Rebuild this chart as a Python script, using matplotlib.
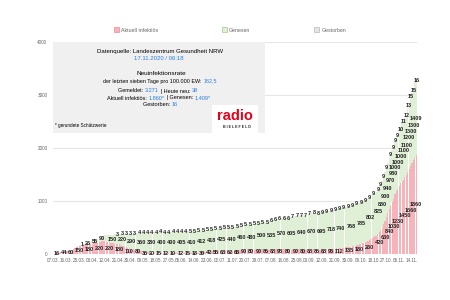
import matplotlib
matplotlib.use('Agg')
import matplotlib.pyplot as plt
from matplotlib.patches import Rectangle, Patch
from matplotlib.offsetbox import TextArea, HPacker, AnnotationBbox

# Tageswerte 07.03.2020 - 17.11.2020
aktuell = [
    # Maerz
    9, 12, 16, 20, 25, 32, 40, 44, 48, 50, 50, 52, 60, 75, 90, 110, 125, 140, 150, 160, 165, 170, 175, 180, 180,
    # April
    180, 185, 190, 200, 210, 210, 215, 220, 230, 240, 240, 240, 235, 230, 220, 210, 200, 200, 195, 190,
    180, 180, 170, 160, 150, 140, 130, 120, 110, 100,
    # Mai
    90, 85, 80, 80, 80, 70, 60, 50, 40, 35, 30, 30, 30, 25, 20, 19, 18, 17, 15, 15,
    15, 15, 14, 13, 12, 11, 10, 10, 10, 10, 10,
    # Juni
    10, 11, 11, 12, 12, 12, 13, 14, 15, 15, 15, 16, 17, 18, 20, 22, 25, 28, 30, 32,
    35, 38, 40, 42, 45, 48, 50, 50, 55, 60,
    # Juli
    60, 62, 65, 68, 70, 70, 68, 65, 62, 60, 60, 60, 62, 65, 70, 75, 80, 85, 90, 90,
    90, 88, 85, 80, 80, 82, 85, 90, 90, 90, 90,
    # August
    90, 88, 85, 80, 80, 82, 85, 88, 90, 90, 90, 92, 95, 100, 100, 95, 90, 85, 80, 80,
    82, 85, 88, 90, 90, 90, 88, 85, 80, 80, 80,
    # September
    82, 85, 88, 90, 90, 90, 88, 85, 80, 80, 82, 85, 88, 90, 90, 90, 92, 95, 98, 100,
    100, 105, 110, 112, 115, 118, 120, 125, 130, 130,
    # Oktober
    135, 140, 145, 150, 160, 165, 170, 180, 190, 200, 210, 220, 230, 240, 260, 280, 300, 320, 340, 340,
    380, 420, 450, 490, 560, 630, 700, 770, 840, 910, 980,
    # November
    1030, 1130, 1180, 1230, 1290, 1340, 1380, 1400, 1450, 1500, 1550, 1600, 1660, 1720, 1780, 1820, 1860,
]

genesen = [
    0, 0, 0, 0, 0, 0, 0, 0, 0, 0, 0, 0, 0, 2, 3, 4, 5, 6, 8, 10, 12, 15, 18, 22, 26,
    35, 40, 45, 50, 55, 60, 65, 70, 80, 90, 100, 110, 115, 120, 130, 140, 150, 160, 170, 180,
    190, 200, 210, 220, 230, 240, 250, 260, 270, 280,
    290, 300, 310, 310, 320, 330, 340, 350, 360, 365, 370, 370, 375, 380, 380, 385, 390, 390, 390, 395,
    400, 400, 400, 400, 400, 400, 400, 400, 400, 405, 405,
    405, 405, 405, 405, 405, 408, 408, 408, 410, 410, 410, 410, 410, 410, 410, 410, 410, 412, 412, 412,
    415, 415, 415, 415, 418, 418, 420, 420, 420, 420,
    420, 422, 425, 428, 430, 432, 435, 438, 440, 440, 442, 445, 448, 450, 455, 460, 460, 462, 465, 470,
    472, 475, 478, 480, 482, 485, 488, 490, 492, 495, 500,
    505, 510, 515, 520, 525, 530, 535, 540, 545, 550, 555, 560, 565, 570, 575, 580, 585, 590, 595, 600,
    605, 610, 615, 620, 625, 630, 635, 640, 645, 648, 650,
    655, 660, 665, 670, 675, 680, 682, 685, 688, 690, 695, 700, 705, 708, 710, 712, 715, 718, 720, 725,
    728, 730, 735, 738, 740, 745, 748, 750, 755, 760,
    765, 768, 770, 772, 775, 778, 780, 782, 785, 788, 790, 792, 795, 798, 800, 802, 805, 808, 810, 815,
    825, 840, 860, 880, 890, 900, 920, 940, 960, 970, 975,
    980, 1000, 1000, 1000, 1000, 1000, 1100, 1100, 1100, 1100, 1200, 1200, 1300, 1300, 1300, 1400, 1409,
]

gestorben = [
    0, 0, 0, 0, 0, 0, 0, 0, 0, 0, 0, 0, 0, 0, 0, 0, 0, 0, 0, 0, 1, 1, 1, 1, 1,
    1, 1, 1, 1, 1, 2, 2, 2, 2, 2, 2, 2, 3, 3, 3, 3, 3, 3, 3, 3, 3, 3, 3, 3, 3, 3, 3, 3, 3, 3,
    3, 3, 3, 3, 3, 4, 4, 4, 4, 4, 4, 4, 4, 4, 4, 4, 4, 4, 4, 4, 4, 4, 4, 4, 4, 4, 4, 4, 4, 4, 4,
    4, 4, 4, 4, 4, 4, 4, 4, 4, 4, 5, 5, 5, 5, 5, 5, 5, 5, 5, 5, 5, 5, 5, 5, 5, 5, 5, 5, 5, 5,
    5, 5, 5, 5, 5, 5, 5, 5, 5, 5, 5, 5, 5, 5, 5, 5, 5, 5, 5, 5, 5, 5, 5, 5, 5, 5, 5, 5, 5, 5, 5,
    5, 5, 5, 5, 5, 6, 6, 6, 6, 6, 6, 6, 6, 6, 6, 6, 6, 6, 6, 6, 7, 7, 7, 7, 7, 7, 7, 7, 7, 7, 7,
    7, 7, 7, 7, 7, 8, 8, 8, 8, 8, 9, 9, 9, 9, 9, 9, 9, 9, 9, 9, 9, 9, 9, 9, 9, 9, 9, 9, 9, 9,
    9, 9, 9, 9, 9, 9, 9, 9, 9, 9, 9, 9, 9, 9, 9, 9, 9, 9, 9, 9, 9, 9, 9, 9, 9, 9, 9, 9, 9, 9, 9,
    9, 9, 9, 9, 9, 10, 10, 11, 11, 12, 12, 13, 15, 15, 15, 16, 16,
]

tick_labels = ['07.03.', '16.03.', '25.03.', '03.04.', '12.04.', '21.04.', '30.04.', '09.05.',
               '18.05.', '27.05.', '05.06.', '14.06.', '23.06.', '02.07.', '11.07.', '20.07.',
               '29.07.', '07.08.', '16.08.', '25.08.', '03.09.', '12.09.', '21.09.', '30.09.',
               '09.10.', '18.10.', '27.10.', '05.11.', '14.11.']

serien = ['Aktuell infektiös', 'Genesen', 'Gestorben']
farben = ['#f7b3ba', '#e0f0d6', '#e4e4e4']
rahmen = ['#f08a96', '#9ccf86', '#b8b8b8']

W, H = 450, 300
def fx(px):
    return px / W
def fy(py):
    return 1 - py / H

fig = plt.figure(figsize=(4.5, 3), dpi=100)
ax = fig.add_axes([fx(53), fy(254), fx(417) - fx(53), fy(42) - fy(254)])

x = list(range(len(aktuell)))
unten_gen = aktuell
unten_tot = [a + g for a, g in zip(aktuell, genesen)]

ax.bar(x, aktuell, width=0.8, color=farben[0], linewidth=0)
ax.bar(x, genesen, bottom=unten_gen, width=0.95, color=farben[1], linewidth=0)
ax.bar(x, gestorben, bottom=unten_tot, width=0.95, color=farben[2], linewidth=0)
ax.axhline(0, color='#c43a48', lw=0.7, zorder=3)

ax.set_xlim(-0.5, len(x) - 0.5)
ax.set_ylim(0, 4000)
ax.set_yticks([0, 1000, 2000, 3000, 4000])
ax.set_xticks(list(range(0, len(x), 9))[:len(tick_labels)])
ax.set_xticklabels(tick_labels)
ax.tick_params(axis='both', length=0, labelsize=3.3, labelcolor='#666666', labelfontfamily='Liberation Sans')
ax.tick_params(axis='x', pad=3)
ax.tick_params(axis='y', pad=4)
ax.yaxis.grid(True, color='#e6e6e6', lw=0.8)
ax.set_axisbelow(True)
for s in ax.spines.values():
    s.set_visible(False)

# Datenbeschriftungen, mittig im Segment
gruppen = []
for werte, unten in [(aktuell, [0] * len(x)), (genesen, unten_gen), (gestorben, unten_tot)]:
    gruppe = []
    for i, (v, u) in enumerate(zip(werte, unten)):
        if v == 0:
            continue
        t = ax.text(i, u + v / 2, str(v), ha='center', va='center', fontsize=4,
                    fontweight='bold', family='Liberation Sans', color='#222222', zorder=5)
        gruppe.append(t)
    gruppen.append(gruppe)

# Legende
handles = [Patch(facecolor=f, edgecolor=r, lw=0.5) for f, r in zip(farben, rahmen)]
fig.legend(handles, serien, loc='center', bbox_to_anchor=(fx(230), fy(30)), ncol=3, frameon=False,
           prop={'family': 'Liberation Sans', 'size': 3.8}, labelcolor='#666666',
           handlelength=0.9, handleheight=0.9, handletextpad=0.5, columnspacing=12)

# Infobox
fig.add_artist(Rectangle((fx(53), fy(133)), fx(265) - fx(53), fy(42) - fy(133),
                         transform=fig.transFigure, facecolor='#f0f0f0', edgecolor='none', zorder=10))
fig.add_artist(Rectangle((fx(212), fy(133)), fx(258) - fx(212), fy(105) - fy(133),
                         transform=fig.transFigure, facecolor='white', edgecolor='none', zorder=11))

blau = '#2a7de1'

def zeile(teile, px, py, size=4.0):
    kinder = [TextArea(t, textprops=dict(color=c, fontsize=size, family='Liberation Sans')) for t, c in teile]
    box = HPacker(children=kinder, pad=0, sep=0, align='baseline')
    ab = AnnotationBbox(box, (fx(px), fy(py)), xycoords='figure fraction', frameon=False,
                        box_alignment=(0.5, 0.5), pad=0, zorder=12)
    fig.add_artist(ab)

zeile([('Datenquelle: Landeszentrum Gesundheit NRW', 'black')], 160, 52, 4.3)
zeile([('17.11.2020 / 06:18', blau)], 159, 59, 4.3)
zeile([('Neuinfektionsrate', 'black')], 161, 73, 4.6)
zeile([('der letzten sieben Tage pro 100.000 EW: ', 'black'), ('162,5', blau)], 160, 81, 3.9)
zeile([('Gemeldet: ', 'black'), ('3.271', blau), (' | Heute neu: ', 'black'), ('38', blau)], 158, 91)
zeile([('Aktuell infektiös: ', 'black'), ('1.860*', blau), (' | Genesen: ', 'black'), ('1.409*', blau)], 159, 98)
zeile([('Gestorben: ', 'black'), ('16', blau)], 160, 105)

fig.text(fx(55), fy(125), '* gerundete Schätzwerte', fontsize=3.3, family='Liberation Sans',
         color='black', va='center', ha='left', zorder=12)
fig.text(fx(235), fy(116), 'radio', fontsize=10.5, fontweight='bold', family='Liberation Sans',
         color='#e2001a', ha='center', va='center', zorder=12)
fig.text(fx(237), fy(127.5), 'B I E L E F E L D', fontsize=2.6, fontweight='bold', family='Liberation Sans',
         color='#222222', ha='center', va='center', zorder=12)

# ueberlappende Beschriftungen ausblenden
# (Aktuell zuerst, innerhalb einer Serie haben spaetere Tage Vorrang)
fig.canvas.draw()
renderer = fig.canvas.get_renderer()
behalten = []
for gruppe in gruppen:
    for t in reversed(gruppe):
        bb = t.get_window_extent(renderer)
        if any(bb.overlaps(b) for b in behalten):
            t.set_visible(False)
        else:
            behalten.append(bb)

fig.savefig('out.png', dpi=100)
